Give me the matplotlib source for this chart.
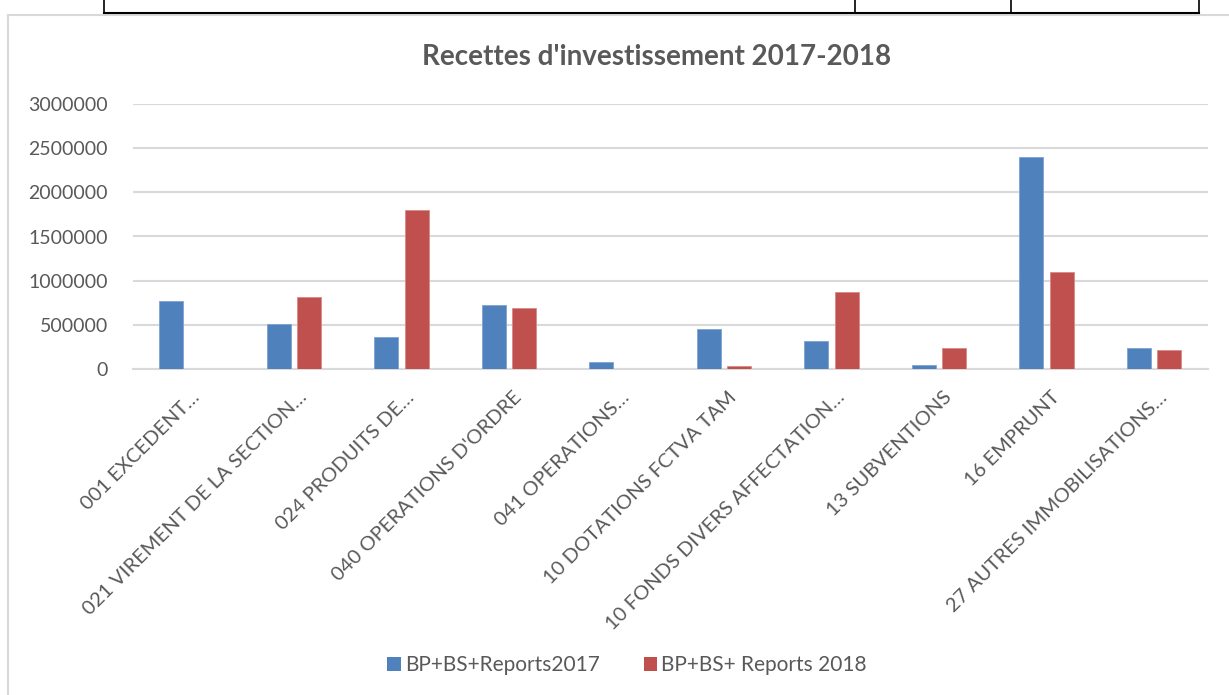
import matplotlib
matplotlib.use("Agg")
import matplotlib.pyplot as plt
from matplotlib.lines import Line2D
from matplotlib.patches import Patch
from matplotlib.transforms import ScaledTranslation
import numpy as np

plt.rcParams['font.family'] = ['Lato', 'DejaVu Sans']

categories = [
    "001 EXCEDENT…",
    "021 VIREMENT DE LA SECTION…",
    "024 PRODUITS DE…",
    "040 OPERATIONS D'ORDRE",
    "041 OPERATIONS…",
    "10 DOTATIONS FCTVA TAM",
    "10 FONDS DIVERS AFFECTATION…",
    "13 SUBVENTIONS",
    "16 EMPRUNT",
    "27 AUTRES IMMOBILISATIONS…",
]
series_2017 = [770000, 515000, 360000, 730000, 76000, 450000, 322000, 50000, 2400000, 238000]
series_2018 = [0, 820000, 1795000, 685000, 0, 38000, 870000, 243000, 1100000, 220000]
series_names = ["BP+BS+Reports2017", "BP+BS+ Reports 2018"]
yticks = [0, 500000, 1000000, 1500000, 2000000, 2500000, 3000000]
title = "Recettes d'investissement 2017-2018"

BLUE = "#4F81BD"
RED = "#C0504D"
GREY_TXT = "#595959"
GRID = "#D9D9D9"

W, H = 1229, 695
fig = plt.figure(figsize=(W / 100, H / 100), dpi=100)
fig.patch.set_facecolor("white")

left, right, bottom, top = 132.9, 1207.7, 369, 104
ax = fig.add_axes([left / W, 1 - bottom / H, (right - left) / W, (bottom - top) / H])

x = np.arange(len(categories))
bw = 0.223
gap = 0.06
off = (bw + gap) / 2
ax.bar(x - off, series_2017, width=bw, color=BLUE, edgecolor="#7FA3D3", linewidth=0.6, zorder=3)
ax.bar(x + off, series_2018, width=bw, color=RED, edgecolor="#D98A88", linewidth=0.6, zorder=3)

ax.set_xlim(-0.5, len(categories) - 0.5)
ax.set_ylim(0, 3000000)
ax.set_yticks(yticks)
ax.set_yticklabels([str(v) for v in yticks], fontsize=14, color=GREY_TXT)
ax.yaxis.grid(True, color=GRID, linewidth=1.5, zorder=0)
ax.set_axisbelow(True)
for s in ["top", "right", "left"]:
    ax.spines[s].set_visible(False)
ax.spines["bottom"].set_color(GRID)
ax.spines["bottom"].set_linewidth(1.5)
ax.tick_params(axis="y", length=0, pad=18)
ax.tick_params(axis="x", length=0, pad=14)
ax.set_xticks(x)
ax.set_xticklabels(categories, rotation=45, ha="right", va="top",
                   rotation_mode="anchor", fontsize=14.5, color=GREY_TXT)
shift = ScaledTranslation(4 / 100, 0, fig.dpi_scale_trans)
for lab in ax.get_xticklabels():
    lab.set_transform(lab.get_transform() + shift)

fig.text(657 / W, 1 - 57 / H, title, ha="center", va="center",
         fontsize=20, fontweight="bold", color=GREY_TXT)

handles = [Patch(facecolor=BLUE, edgecolor="none"), Patch(facecolor=RED, edgecolor="none")]
fig.legend(handles, series_names, loc="center", bbox_to_anchor=(627 / W, 1 - 665 / H),
           ncol=2, frameon=False, fontsize=15, labelcolor=GREY_TXT,
           handlelength=0.65, handleheight=0.65, handletextpad=0.2, columnspacing=2.1)

# chart frame (light grey) and table lines above
def px_line(xs, ys, color, lw):
    fig.add_artist(Line2D([v / W for v in xs], [1 - v / H for v in ys],
                          transform=fig.transFigure, color=color, linewidth=lw))

px_line([8, 8], [15, 695], "#D9D9D9", 1.5)
px_line([8, 1229], [15, 15], "#D9D9D9", 1.5)
px_line([103.5, 1199], [13, 13], "black", 1.5)
for xv in [103.5, 855, 1011, 1199]:
    px_line([xv, xv], [0, 13], "black", 1.2)

fig.savefig("out.png", dpi=100, facecolor="white")
